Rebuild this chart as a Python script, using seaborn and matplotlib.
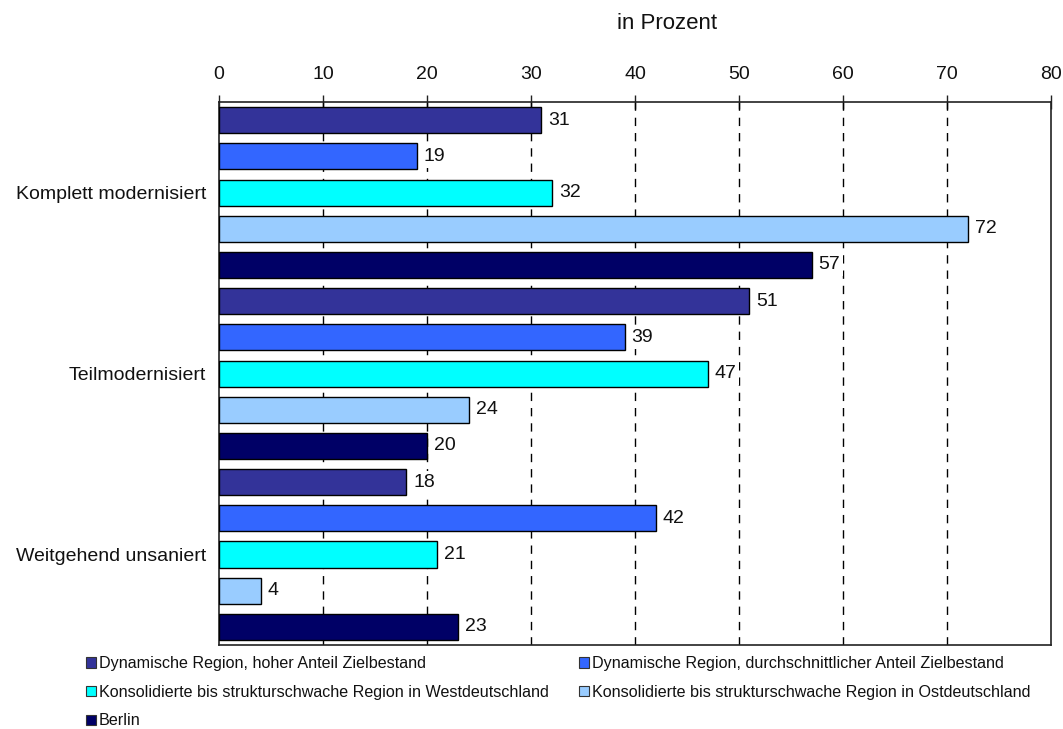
import matplotlib
matplotlib.use("Agg")
import matplotlib.pyplot as plt
from matplotlib.patches import Patch
from matplotlib.ticker import FixedLocator
import pandas as pd
import seaborn as sns

# Sanierungszustand nach Regionstyp
zustaende = ["Komplett modernisiert", "Teilmodernisiert", "Weitgehend unsaniert"]
regionen = [
    "Dynamische Region, hoher Anteil Zielbestand",
    "Dynamische Region, durchschnittlicher Anteil Zielbestand",
    "Konsolidierte bis strukturschwache Region in Westdeutschland",
    "Konsolidierte bis strukturschwache Region in Ostdeutschland",
    "Berlin",
]
dyn_hoch = [31, 51, 18]
dyn_durchschnitt = [19, 39, 42]
west = [32, 47, 21]
ost = [72, 24, 4]
berlin = [57, 20, 23]
farben = ["#333399", "#3366FF", "#00FFFF", "#99CCFF", "#000066"]
x_ticks = [0, 10, 20, 30, 40, 50, 60, 70, 80]

werte = [dyn_hoch, dyn_durchschnitt, west, ost, berlin]
rows = []
for region, serie in zip(regionen, werte):
    for zustand, v in zip(zustaende, serie):
        rows.append({"Zustand": zustand, "Region": region, "Anteil": v})
df = pd.DataFrame(rows)

sns.set_theme(style="white")
plt.rcParams["font.family"] = ["Liberation Sans", "DejaVu Sans"]
plt.rcParams["text.color"] = "#111111"

fig = plt.figure(figsize=(10.63, 7.29), dpi=100)
ax = fig.add_axes([0.206, 0.1152, 0.7827, 0.7448])

sns.barplot(
    data=df, y="Zustand", x="Anteil", hue="Region",
    order=zustaende, hue_order=regionen, palette=farben, saturation=1,
    orient="h", width=1.0, gap=0.28, edgecolor="black", linewidth=1.0,
    legend=False, ax=ax, zorder=3,
)

# Wertebeschriftung mit weißem Hintergrund über Gitter und Rahmen
for cont in ax.containers:
    labels = ax.bar_label(cont, padding=5, fontsize=14, color="#111111")
    for t in labels:
        t.set_bbox(dict(facecolor="white", edgecolor="none", pad=2))
        t.set_zorder(5)
        t.set_clip_on(False)

ax.set_xlim(0, 80)
ax.set_ylim(2.5, -0.5)
ax.xaxis.tick_top()
ax.set_xticks(x_ticks)
ax.set_xticklabels([str(t) for t in x_ticks], fontsize=14)
ax.tick_params(axis="x", direction="inout", length=10, width=1, colors="#222222",
               pad=9, labelcolor="#111111")
ax.set_xlabel("")
ax.set_ylabel("")

# Kategorienbeschriftung mittig, Trennstriche an den Gruppengrenzen
ax.tick_params(axis="y", which="major", length=0, pad=9, labelsize=14,
               labelcolor="#111111")
ax.yaxis.set_minor_locator(FixedLocator([-0.5, 0.5, 1.5, 2.5]))
ax.tick_params(axis="y", which="minor", length=6, width=1, direction="out",
               colors="#222222")

for x in x_ticks[1:-1]:
    ax.axvline(x, color="black", lw=1.0, ls=(0, (6, 5)), zorder=1)

for s in ax.spines.values():
    s.set_visible(True)
    s.set_color("#222222")
    s.set_linewidth(1.2)
    s.set_zorder(2.5)

fig.text(0.6275, 0.968, "in Prozent", ha="center", va="center",
         fontsize=16, color="#111111")

handles = [Patch(facecolor=c, edgecolor="#333333", linewidth=0.8) for c in farben]
idx = [0, 2, 4, 1, 3]
fig.legend(
    [handles[i] for i in idx], [regionen[i] for i in idx],
    loc="upper left", bbox_to_anchor=(0.081, 0.1), ncol=2, frameon=False,
    fontsize=11.6, handlelength=0.6, handleheight=0.6, handletextpad=0.2,
    labelspacing=0.85, columnspacing=1.9, borderaxespad=0, borderpad=0,
)

fig.savefig("out.png", dpi=100, facecolor="white")
